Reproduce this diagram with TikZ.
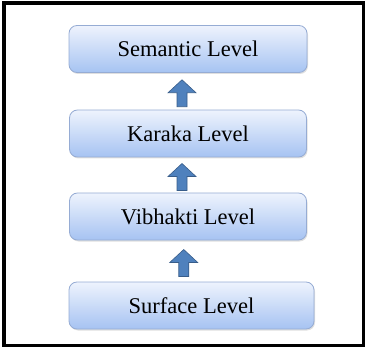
\documentclass[tikz,border=0pt]{standalone}
\usepackage{fontspec}
\setmainfont{Liberation Serif}
\usetikzlibrary{calc, shadows}
\definecolor{LvlTop}{RGB}{238, 243, 253}
\definecolor{LvlBottom}{RGB}{166, 195, 242}
\definecolor{LvlEdge}{RGB}{150, 172, 212}
\definecolor{UpFill}{RGB}{79, 129, 189}
\definecolor{UpEdge}{RGB}{56, 93, 138}

\begin{document}
\begin{tikzpicture}[x=1pt,y=1pt,
  level/.style={draw=LvlEdge, line width=0.8pt, rounded corners=8pt,
    top color=LvlTop, bottom color=LvlBottom, minimum height=47pt,
    font=\fontsize{22.5}{27}\selectfont,
    drop shadow={shadow xshift=1pt, shadow yshift=-1.5pt, opacity=0.25}},
  uparrow/.style={fill=UpFill, draw=UpEdge, line width=0.6pt}]
  \path[use as bounding box] (0,0) rectangle (365,349);
  \draw[line width=3.5pt] (4,3.5) rectangle (363.5,346);

  \node[level, minimum width=238pt] (semantic) at (188,300) {Semantic Level};
  \node[level, minimum width=237pt] (karaka) at (188,215.5) {Karaka Level};
  \node[level, minimum width=237pt] (vibhakti) at (188,132.5) {Vibhakti Level};
  \node[level, minimum width=245pt] (surface) at (191.5,43.5) {Surface Level};

  % block arrows between the levels
  \foreach \lo/\hi in {karaka/semantic, vibhakti/karaka, surface/vibhakti}{
    \coordinate (m) at ($(\lo.north)!0.5!(\hi.south)+(-6,-2)$);
    \draw[uparrow] ($(m)+(0,13.5)$) -- ++(14,-13) -- ++(-9,0) -- ++(0,-14)
      -- ++(-10,0) -- ++(0,14) -- ++(-9,0) -- cycle;
  }
\end{tikzpicture}
\end{document}
